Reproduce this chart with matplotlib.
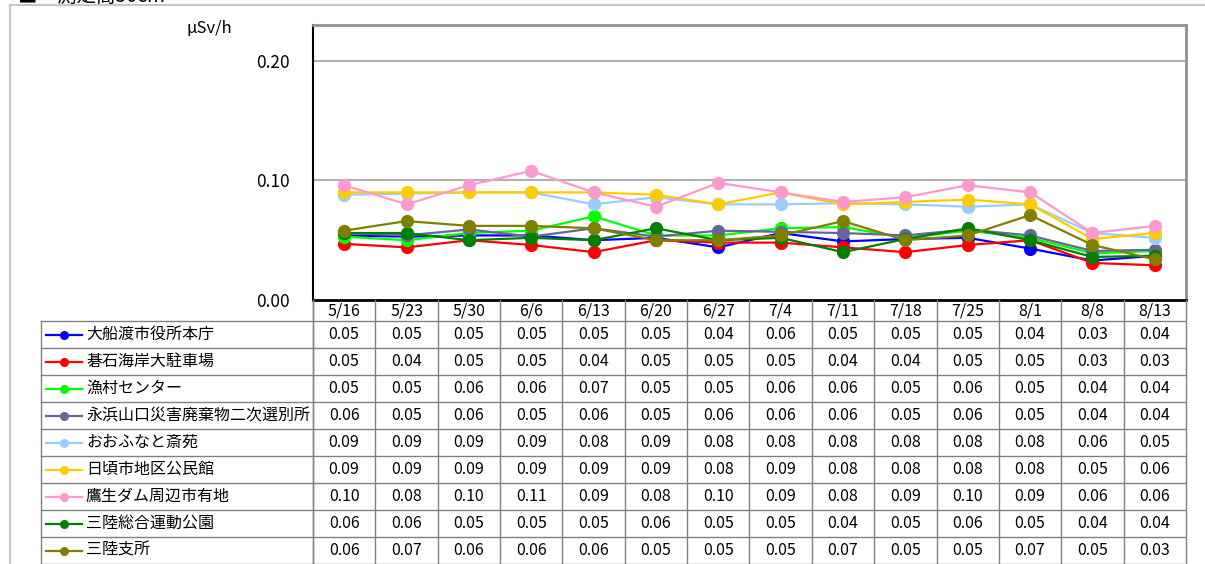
import matplotlib
matplotlib.use("Agg")
import matplotlib.pyplot as plt
import matplotlib.transforms as mtransforms
from matplotlib.lines import Line2D

plt.rcParams['font.family'] = ['Noto Sans CJK JP', 'DejaVu Sans']

dates = ["5/16", "5/23", "5/30", "6/6", "6/13", "6/20", "6/27",
         "7/4", "7/11", "7/18", "7/25", "8/1", "8/8", "8/13"]

names = ["大船渡市役所本庁", "碁石海岸大駐車場", "漁村センター",
         "永浜山口災害廃棄物二次選別所", "おおふなと斎苑", "日頃市地区公民館",
         "鷹生ダム周辺市有地", "三陸総合運動公園", "三陸支所"]

colors = ["#0000FF", "#FF0000", "#00FF00", "#666699", "#99CCFF",
          "#FFCC00", "#FF99CC", "#008000", "#808000"]

ofunato = [0.054, 0.053, 0.054, 0.054, 0.050, 0.052, 0.044, 0.056, 0.049, 0.051, 0.052, 0.043, 0.033, 0.037]
goishi = [0.047, 0.044, 0.050, 0.046, 0.040, 0.050, 0.048, 0.048, 0.044, 0.040, 0.046, 0.050, 0.031, 0.029]
gyoson = [0.053, 0.050, 0.056, 0.058, 0.070, 0.054, 0.054, 0.060, 0.061, 0.052, 0.058, 0.052, 0.039, 0.041]
nagahama = [0.056, 0.054, 0.059, 0.053, 0.060, 0.053, 0.058, 0.057, 0.056, 0.054, 0.059, 0.054, 0.041, 0.042]
saien = [0.088, 0.089, 0.090, 0.090, 0.080, 0.086, 0.080, 0.080, 0.081, 0.080, 0.078, 0.080, 0.056, 0.052]
hikoroichi = [0.090, 0.090, 0.090, 0.090, 0.090, 0.088, 0.080, 0.090, 0.080, 0.082, 0.084, 0.080, 0.051, 0.056]
takao = [0.096, 0.080, 0.096, 0.108, 0.090, 0.078, 0.098, 0.090, 0.082, 0.086, 0.096, 0.090, 0.056, 0.062]
sanriku_park = [0.056, 0.056, 0.050, 0.052, 0.050, 0.060, 0.050, 0.052, 0.040, 0.051, 0.060, 0.050, 0.036, 0.037]
sanriku_branch = [0.058, 0.066, 0.062, 0.062, 0.060, 0.050, 0.050, 0.054, 0.066, 0.050, 0.054, 0.071, 0.046, 0.034]

series = [ofunato, goishi, gyoson, nagahama, saien, hikoroichi, takao,
          sanriku_park, sanriku_branch]

yticks = [0.0, 0.1, 0.2]

W, H = 1205, 564
fig = plt.figure(figsize=(W / 100, H / 100), dpi=100)


def fx(px):
    return px / W


def fy(py):
    return 1 - py / H


# outer frame (cut-off page region)
fig.add_artist(Line2D([fx(10), fx(1205)], [fy(5), fy(5)], color="#c8c8c8", lw=1.5))
fig.add_artist(Line2D([fx(10), fx(10)], [fy(5), fy(564)], color="#c8c8c8", lw=1.5))
fig.text(fx(18), fy(-4), "■　測定高50cm", fontsize=14, va="center", ha="left")

pl, pr, pt, pb = 313, 1186, 25, 300
ax = fig.add_axes([fx(pl), fy(pb), fx(pr) - fx(pl), fy(pt) - fy(pb)])
n = len(dates)
x = list(range(n))
for vals, c in zip(series, colors):
    ax.plot(x, vals, color=c, lw=1.6, marker="o", markersize=9.5,
            markeredgewidth=0, zorder=3)

ax.set_xlim(-0.5, n - 0.5)
ax.set_ylim(0, 0.23)
ax.set_yticks(yticks)
ax.set_yticklabels([f"{v:.2f}" for v in yticks], fontsize=12.5)
ax.tick_params(axis="y", length=0, pad=17)
ax.set_xticks([])
for v in yticks[1:]:
    ax.axhline(v, color="#a0a0a0", lw=1.2, zorder=1)
for s in ["top", "right"]:
    ax.spines[s].set_color("#909090")
    ax.spines[s].set_linewidth(2)
ax.spines["left"].set_color("black")
ax.spines["left"].set_linewidth(1.5)
ax.spines["bottom"].set_color("black")
ax.spines["bottom"].set_linewidth(2)

fig.text(fx(209), fy(28), "μSv/h", fontsize=12, ha="center", va="center")

# data table
trans = mtransforms.blended_transform_factory(ax.transData, fig.transFigure)
grid_c = "#808080"
header_top, header_bot = 300, 321
row_h = (564 - header_bot) / len(names)
tab_left = 41

# vertical lines between date columns
for i in range(n + 1):
    xe = i - 0.5
    fig.add_artist(Line2D([xe, xe], [fy(header_top), fy(564)], transform=trans,
                          color=grid_c, lw=1))
fig.add_artist(Line2D([fx(tab_left), fx(tab_left)], [fy(header_bot), fy(564)],
                      color=grid_c, lw=1))
fig.add_artist(Line2D([fx(pl), fx(pl)], [fy(header_top), fy(564)],
                      color=grid_c, lw=1))
# horizontal lines
for r in range(len(names) + 1):
    yy = header_bot + r * row_h
    fig.add_artist(Line2D([fx(tab_left), fx(pr)], [fy(yy), fy(yy)],
                          color=grid_c, lw=1))

# header
for i, d in enumerate(dates):
    fig.text(i, fy((header_top + header_bot) / 2 + 1), d, transform=trans,
             ha="center", va="center", fontsize=11.5)

# rows
for r, (nm, c, vals) in enumerate(zip(names, colors, series)):
    yc = fy(header_bot + (r + 0.5) * row_h)
    fig.add_artist(Line2D([fx(46), fx(82)], [yc, yc], color=c, lw=1.6))
    fig.add_artist(Line2D([fx(64)], [yc], color=c, marker="o", markersize=6.5,
                          markeredgewidth=0))
    fig.text(fx(86), yc, nm, ha="left", va="center", fontsize=11.5)
    for i, v in enumerate(vals):
        fig.text(i, yc, f"{v:.2f}", transform=trans, ha="center", va="center",
                 fontsize=11.5)

fig.savefig("out.png", dpi=100)
